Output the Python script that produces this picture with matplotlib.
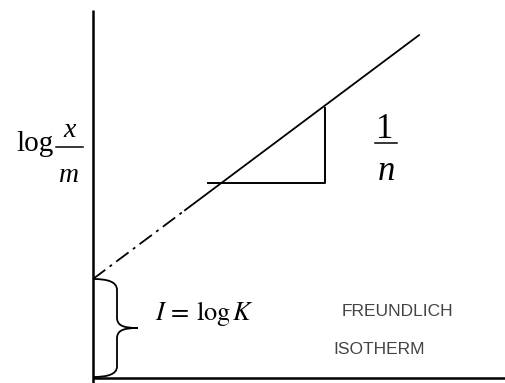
import matplotlib
matplotlib.use("Agg")
import numpy as np
import matplotlib.pyplot as plt
from matplotlib.path import Path
from matplotlib.patches import PathPatch

plt.rcParams['mathtext.fontset'] = 'stix'

# Freundlich line: log(x/m) = log K + (1/n) log C
log_k = 98.5          # intercept on the y axis
inv_n = 0.748         # slope
x_extrap = [0, 92]    # extrapolated (dash-dot) part
x_meas = [92, 326]    # measured (solid) part
tri_x = [115, 232]    # slope triangle legs
tri_top = 270

fig = plt.figure(figsize=(5.06, 3.83), dpi=100)
ax = fig.add_axes([0, 0, 1, 1])
ax.set_xlim(-93, 413)
ax.set_ylim(-5.5, 377.5)
ax.axis('off')

# axes
ax.plot([0, 0], [-6, 368], color='black', lw=1.8, solid_capstyle='butt')
ax.plot([0, 414], [0, 0], color='black', lw=1.8, solid_capstyle='butt')

def line(x):
    return log_k + inv_n * np.asarray(x)

ax.plot(x_extrap, line(x_extrap), color='black', lw=1.3,
        linestyle=(0, (8.5, 3, 1.6, 3)))
ax.plot(x_meas, line(x_meas), color='black', lw=1.3)

# slope triangle
hy = line(tri_x[0] + 13)
ax.plot([tri_x[0], tri_x[1], tri_x[1]], [hy, hy, tri_top], color='black', lw=1.4)

# brace for the intercept
verts = [(0, 98.5), (14, 98.5), (24, 96), (24, 87.5),
         (24, 60),
         (24, 52), (30, 49.5), (45, 49.5),
         (30, 49.5), (24, 47), (24, 39),
         (24, 11),
         (24, 3), (14, 0.5), (0, 0.5)]
codes = [Path.MOVETO, Path.CURVE4, Path.CURVE4, Path.CURVE4,
         Path.LINETO,
         Path.CURVE4, Path.CURVE4, Path.CURVE4,
         Path.CURVE4, Path.CURVE4, Path.CURVE4,
         Path.LINETO,
         Path.CURVE4, Path.CURVE4, Path.CURVE4]
ax.add_patch(PathPatch(Path(verts, codes), facecolor='none', edgecolor='black', lw=1.3))

serif = 'Liberation Serif'

# y label: log x/m, fraction set by hand
ax.text(-39, 226.5, 'log', fontsize=21, family=serif, ha='right', va='baseline')
ax.plot([-37, -10], [230.5, 230.5], color='black', lw=1.1)
ax.text(-23.5, 240.5, 'x', fontsize=20, family=serif, style='italic',
        ha='center', va='baseline')
ax.text(-23.5, 195.5, 'm', fontsize=20, family=serif, style='italic',
        ha='center', va='baseline')

# slope label: 1/n
ax.text(292, 239.5, '1', fontsize=25, family=serif, ha='center', va='baseline')
ax.plot([282, 304], [234.5, 234.5], color='black', lw=1.1)
ax.text(293, 197.5, 'n', fontsize=25, family=serif, style='italic',
        ha='center', va='baseline')

ax.text(62, 57.5, r'$I\,=\,\log K$', fontsize=19, ha='left', va='baseline')

ax.text(249, 65.5, 'FREUNDLICH', fontsize=12.5, family='Liberation Sans',
        color='#444444', ha='left', va='center')
ax.text(240, 27.5, 'ISOTHERM', fontsize=12.5, family='Liberation Sans',
        color='#444444', ha='left', va='center')

fig.savefig('out.png', dpi=100)
